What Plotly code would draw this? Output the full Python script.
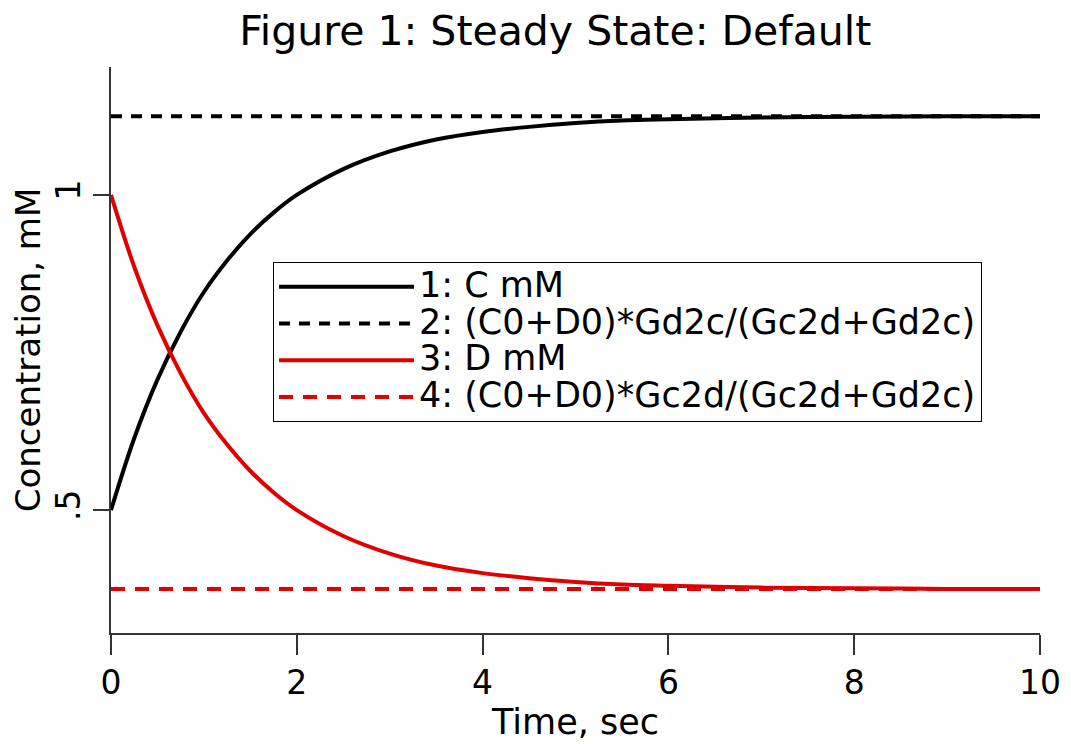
import plotly.graph_objects as go

time = [0, 0.25, 0.5, 0.75, 1, 1.25, 1.5, 1.75, 2, 2.5, 3, 3.5, 4, 4.5, 5, 5.5, 6, 7, 8, 9, 10]
c_mM = [0.5, 0.614, 0.707, 0.783, 0.846, 0.896, 0.938, 0.972, 1.0, 1.041, 1.069, 1.088,
        1.100, 1.108, 1.114, 1.118, 1.120, 1.123, 1.124, 1.125, 1.125]
d_mM = [1.0, 0.886, 0.793, 0.717, 0.654, 0.604, 0.562, 0.528, 0.5, 0.459, 0.431, 0.412,
        0.400, 0.392, 0.386, 0.382, 0.380, 0.377, 0.376, 0.375, 0.375]
c_ss = 1.125
d_ss = 0.375
names = ["1: C mM", "2: (C0+D0)*Gd2c/(Gc2d+Gd2c)", "3: D mM", "4: (C0+D0)*Gc2d/(Gc2d+Gd2c)"]
x_ticks = [0, 2, 4, 6, 8, 10]
y_ticks = [0.5, 1]
y_ticklabels = [".5", "1"]

FONT = "DejaVu Sans"


def lg(n):
    return '<span style="font-size:35px">' + n + '</span>'


fig = go.Figure()
fig.add_trace(go.Scatter(x=time, y=c_mM, mode="lines", name=lg(names[0]),
                         line=dict(color="black", width=4, shape="spline")))
fig.add_trace(go.Scatter(x=[time[0], time[-1]], y=[c_ss, c_ss], mode="lines", name=lg(names[1]),
                         line=dict(color="black", width=4, dash="11px,9px")))
fig.add_trace(go.Scatter(x=time, y=d_mM, mode="lines", name=lg(names[2]),
                         line=dict(color="#e00000", width=4, shape="spline")))
fig.add_trace(go.Scatter(x=[time[0], time[-1]], y=[d_ss, d_ss], mode="lines", name=lg(names[3]),
                         line=dict(color="#e00000", width=4, dash="14px,10px")))

fig.update_layout(
    width=1071, height=744,
    paper_bgcolor="white", plot_bgcolor="white",
    margin=dict(l=103, r=39, t=59, b=119),
    font=dict(family=FONT, color="black"),
    title=dict(text="Figure 1: Steady State: Default", x=0.511, xanchor="center",
               y=0.969, yanchor="middle", font=dict(size=41, family=FONT)),
    showlegend=True,
    legend=dict(x=0.1744, y=0.655, xanchor="left", yanchor="top",
                bordercolor="black", borderwidth=1, bgcolor="white",
                font=dict(size=26, family=FONT), itemwidth=135,
                tracegroupgap=0),
    xaxis=dict(range=[0, 10], tickvals=x_ticks, ticktext=[str(v) for v in x_ticks],
               showgrid=False, zeroline=False, showline=True, linecolor="#333", linewidth=1.5,
               ticks="outside", ticklen=20, tickwidth=1.5, tickcolor="#333", automargin=False,
               tickfont=dict(size=33), title=dict(text="Time, sec", font=dict(size=35), standoff=6)),
    yaxis=dict(range=[0.305, 1.203], tickvals=y_ticks, ticktext=y_ticklabels, tickangle=-90,
               showgrid=False, zeroline=False, showline=True, linecolor="#333", linewidth=1.5,
               ticks="outside", ticklen=16, tickwidth=1.5, tickcolor="#333", automargin=False,
               tickfont=dict(size=33), title=dict(text="Concentration, mM", font=dict(size=34), standoff=6)),
)

fig.write_html("out.html")
